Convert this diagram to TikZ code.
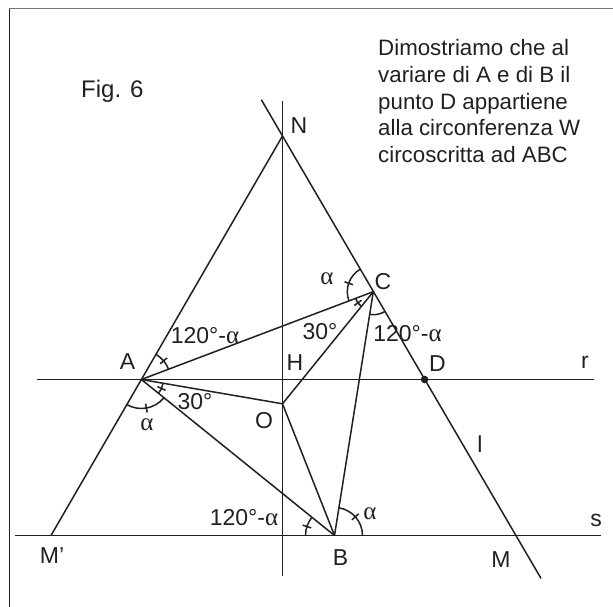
\documentclass[tikz,border=0pt]{standalone}
\usepackage{fontspec}
\setmainfont{Liberation Sans}
\newfontfamily\grk{Liberation Serif}
\usetikzlibrary{calc}
\definecolor{ink}{HTML}{231F20}
\newcommand{\al}{{\grk\fontsize{25}{25}\selectfont α}}
\newcommand{\angarc}[4]{\draw[ln] ([shift={(#2:#4)}]#1) arc[start angle=#2,end angle=#3,radius=#4];}
\newcommand{\angtick}[3]{\draw[ln] ($(#1)+(#2:{#3-4.5})$) -- ($(#1)+(#2:{#3+4.5})$);}
\begin{document}
\begin{tikzpicture}[x=1pt,y=1pt,
  ln/.style={line width=1.5pt, draw=ink},
  lab/.style={font=\fontsize{23}{23}\selectfont, text=ink, inner sep=0pt},
  txt/.style={font=\fontsize{22.3}{26.8}\selectfont, text=ink, inner sep=0pt, anchor=base west}]
\useasboundingbox (0,0) rectangle (613,607);
% frame (left and top only)
\coordinate (F0) at (9,0);
\coordinate (F1) at (9,598);
\coordinate (F2) at (613,598);
\draw[line width=1pt, draw=ink] (F0) -- (F1);
\draw[line width=1pt, draw=black!55] (F1) -- (F2);
% points
\coordinate (N) at (282.5,471);
\coordinate (Mp) at (51,71.5);
\coordinate (M) at (515,71.5);
\coordinate (Ltop) at (261.3,507.3);
\coordinate (Lbot) at (541,28.6);
\coordinate (Vtop) at (282.5,506);
\coordinate (Vbot) at (282.5,30.5);
\coordinate (R0) at (37,227.5);
\coordinate (R1) at (593.5,227.5);
\coordinate (S0) at (15,71.5);
\coordinate (S1) at (600.5,71.5);
\coordinate (A) at (141.4,227.5);
\coordinate (C) at (373.3,315.3);
\coordinate (D) at (424.6,227.5);
\coordinate (B) at (334.5,71.5);
\coordinate (O) at (282.5,203.2);
% lines
\draw[ln] (Vtop) -- (Vbot);
\draw[ln] (R0) -- (R1);
\draw[ln] (S0) -- (S1);
\draw[ln] (N) -- (Mp);
\draw[ln] (Ltop) -- (Lbot);
\draw[ln] (A) -- (C);
\draw[ln] (A) -- (O);
\draw[ln] (A) -- (B);
\draw[ln] (O) -- (C);
\draw[ln] (O) -- (B);
\draw[ln] (C) -- (B);
\fill[ink] (D) circle (3.8);
% angle marks
\angarc{A}{20.7}{60}{29} \angtick{A}{40}{29}
\angarc{A}{240}{321.1}{29} \angtick{A}{280}{29}
\angarc{A}{-38.9}{-9.8}{22} \angtick{A}{-24}{22}
\angarc{C}{120}{200.7}{26} \angtick{C}{161}{26}
\angarc{C}{200.7}{231}{19} \angtick{C}{216}{19}
\angarc{C}{261}{300}{23}
\angarc{B}{141.1}{180}{29} \angtick{B}{162}{29}
\angarc{B}{0}{81}{28} \angtick{B}{42}{28}
% labels
\node[lab] (lN) at (299,481) {N};
\node[lab] (lC) at (383,325.5) {C};
\node[lab] (laC) at (327,328) {\al};
\node[lab] (l30C) at (320,275) {30°};
\node[lab] (l120C) at (407.5,273) {120°-\al};
\node[lab] (lH) at (295,244.5) {H};
\node[lab] (lD) at (437.5,243.5) {D};
\node[lab] (lr) at (585,244.5) {r};
\node[lab] (lA) at (127.5,245.5) {A};
\node[lab] (l120A) at (205,271) {120°-\al};
\node[lab] (l30A) at (195,205.3) {30°};
\node[lab] (laA) at (147,182) {\al};
\node[lab] (lO) at (264,186) {O};
\node[lab] (ll) at (480,163) {l};
\node[lab] (l120B) at (244,89.5) {120°-\al};
\node[lab] (laB) at (370,93) {\al};
\node[lab] (ls) at (596,87) {s};
\node[lab] (lB) at (340.5,49) {B};
\node[lab] (lM) at (501,47.5) {M};
\node[lab] (lMp) at (52,51) {M’};
\node[font=\fontsize{24}{24}\selectfont, text=ink, inner sep=0pt, anchor=base west] (fig) at (81,509.7) {Fig. 6};
\node[txt] (t1) at (378,551.3) {Dimostriamo che al};
\node[txt] (t2) at (378,524.5) {variare di A e di B il};
\node[txt] (t3) at (378,497.7) {punto D appartiene};
\node[txt] (t4) at (378,471) {alla circonferenza W};
\node[txt] (t5) at (378,444) {circoscritta ad ABC};
\end{tikzpicture}
\end{document}
